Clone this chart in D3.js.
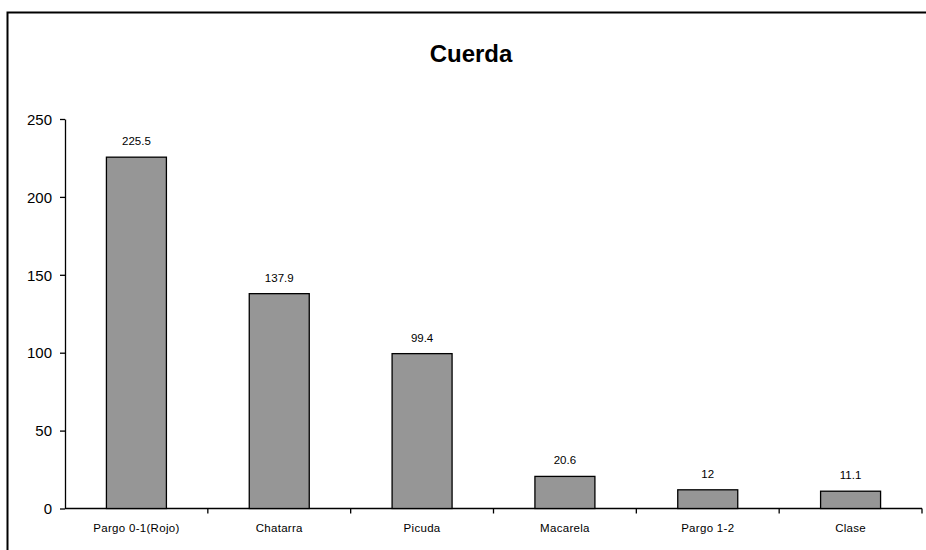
<!DOCTYPE html>
<html>
<head>
<meta charset="utf-8">
<script src="https://cdn.jsdelivr.net/npm/d3@7"></script>
<style>
  body { margin: 0; background: #fff; }
  svg { display: block; font-family: "Liberation Sans", Arial, sans-serif; }
  .axis path, .axis line { stroke: #000; stroke-width: 1.3; }
  .axis text { fill: #000; }
</style>
</head>
<body>
<div id="chart"></div>
<script>
var categories = ["Pargo 0-1(Rojo)", "Chatarra", "Picuda", "Macarela", "Pargo 1-2", "Clase"];
var values = [225.5, 137.9, 99.4, 20.6, 12, 11.1];
var valueLabels = ["225.5", "137.9", "99.4", "20.6", "12", "11.1"];
var yTicks = [0, 50, 100, 150, 200, 250];

var width = 926, height = 550;
var margin = { top: 119, right: 4, bottom: 41.5, left: 65 };

var svg = d3.select("#chart").append("svg")
  .attr("width", width)
  .attr("height", height);

// outer frame (only left and top edges show in the picture)
svg.append("rect")
  .attr("x", 7.5).attr("y", 12.5)
  .attr("width", width + 20).attr("height", height + 20)
  .attr("fill", "none").attr("stroke", "#000").attr("stroke-width", 2);

svg.append("text")
  .attr("x", 471).attr("y", 62)
  .attr("text-anchor", "middle")
  .attr("font-size", 24).attr("font-weight", "bold")
  .text("Cuerda");

var x = d3.scaleBand()
  .domain(categories)
  .range([margin.left, width - margin.right])
  .paddingInner(0.58).paddingOuter(0.29);

var band = d3.scaleBand()
  .domain(categories)
  .range([margin.left, width - margin.right]);

var y = d3.scaleLinear()
  .domain([0, 250])
  .range([height - margin.bottom, margin.top]);

// y axis
svg.append("g")
  .attr("class", "axis")
  .attr("transform", "translate(" + margin.left + ",0)")
  .call(d3.axisLeft(y).tickValues(yTicks).tickSize(5).tickPadding(8).tickSizeOuter(0))
  .call(g => g.selectAll("text").attr("font-size", 15).attr("dy", "0.35em"));

// x axis with boundary ticks
var xg = svg.append("g")
  .attr("class", "axis")
  .attr("transform", "translate(0," + y(0) + ")");
xg.append("line")
  .attr("x1", margin.left).attr("x2", width - margin.right)
  .attr("stroke", "#000").attr("stroke-width", 1.3);
xg.selectAll(".bt")
  .data(categories)
  .enter().append("line")
  .attr("x1", d => band(d) + band.bandwidth())
  .attr("x2", d => band(d) + band.bandwidth())
  .attr("y1", 0).attr("y2", 5)
  .attr("stroke", "#000").attr("stroke-width", 1.3);
xg.selectAll(".cl")
  .data(categories)
  .enter().append("text")
  .attr("x", d => band(d) + band.bandwidth() / 2)
  .attr("y", 23)
  .attr("text-anchor", "middle")
  .attr("font-size", 11.5)
  .attr("letter-spacing", 0.3)
  .text(d => d);

// bars
svg.selectAll(".bar")
  .data(values)
  .enter().append("rect")
  .attr("x", (d, i) => x(categories[i]))
  .attr("y", d => y(d))
  .attr("width", x.bandwidth())
  .attr("height", d => y(0) - y(d))
  .attr("fill", "#969696")
  .attr("stroke", "#000")
  .attr("stroke-width", 1.3);

// value labels
svg.selectAll(".vl")
  .data(values)
  .enter().append("text")
  .attr("x", (d, i) => x(categories[i]) + x.bandwidth() / 2)
  .attr("y", d => y(d) - 12)
  .attr("text-anchor", "middle")
  .attr("font-size", 11.5)
  .text((d, i) => valueLabels[i]);
</script>
</body>
</html>
